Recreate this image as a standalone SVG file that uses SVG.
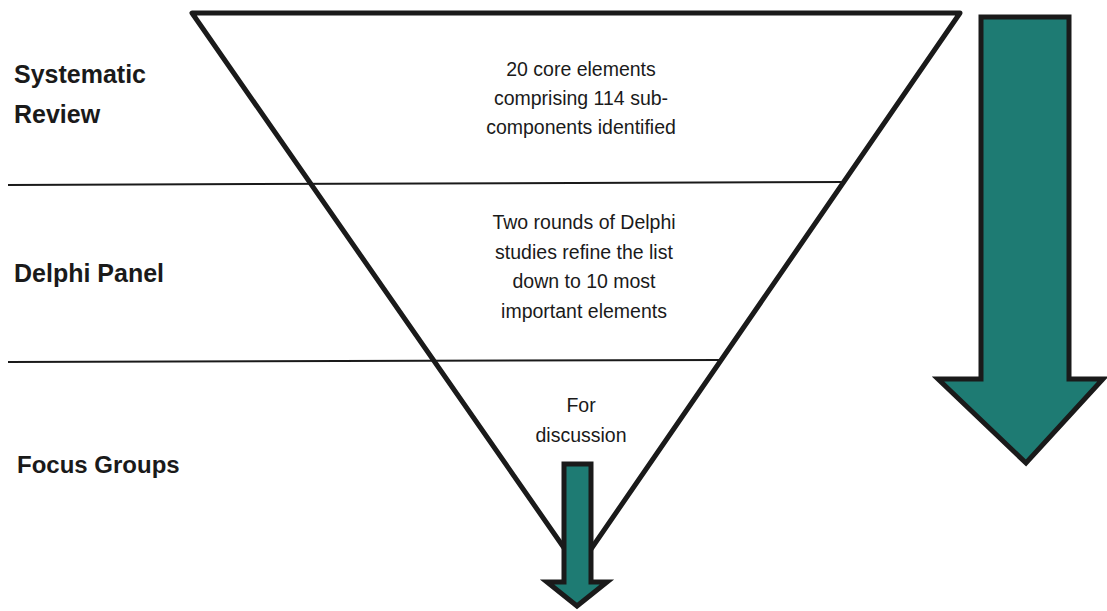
<svg xmlns="http://www.w3.org/2000/svg" width="1107" height="611" viewBox="0 0 1107 611">
<style>
.lbl{font-family:"Liberation Sans",Arial,sans-serif;font-weight:bold;font-size:25px;fill:#1a1a1a}
.txt{font-family:"Liberation Sans",Arial,sans-serif;font-size:19.5px;fill:#1a1a1a;text-anchor:middle}
.arrow{fill:#1e7b73;stroke:#1a1a1a;stroke-width:5;stroke-linejoin:miter}
.div{stroke:#1a1a1a;stroke-width:2;fill:none}
</style>
<rect width="1107" height="611" fill="#fff"/>
<g id="funnel">
<polygon points="192,13 960,13 578,568" fill="none" stroke="#1a1a1a" stroke-width="5" stroke-linejoin="round"/>
</g>
<g id="dividers">
<line class="div" x1="8" y1="185" x2="845" y2="182"/>
<line class="div" x1="8" y1="362" x2="721" y2="360"/>
</g>
<g id="stage-systematic-review">
<text class="lbl" x="14" y="83">Systematic</text>
<text class="lbl" x="14" y="123">Review</text>
<text class="txt" x="581" y="76">20 core elements</text>
<text class="txt" x="581" y="105">comprising 114 sub-</text>
<text class="txt" x="581" y="134">components identified</text>
</g>
<g id="stage-delphi-panel">
<text class="lbl" x="14" y="282">Delphi Panel</text>
<text class="txt" x="584" y="229">Two rounds of Delphi</text>
<text class="txt" x="584" y="259">studies refine the list</text>
<text class="txt" x="584" y="288">down to 10 most</text>
<text class="txt" x="584" y="318">important elements</text>
</g>
<g id="stage-focus-groups">
<text class="lbl" x="17" y="473" style="font-size:24px">Focus Groups</text>
<text class="txt" x="581" y="412">For</text>
<text class="txt" x="581" y="442">discussion</text>
</g>
<g id="connectors">
<polygon class="arrow" points="981,17 1069,17 1069,379 1103,379 1026,463 938,379 981,379"/>
<polygon class="arrow" points="564,464 591,464 591,582 607,582 577,606 547,582 564,582"/>
</g>
</svg>
